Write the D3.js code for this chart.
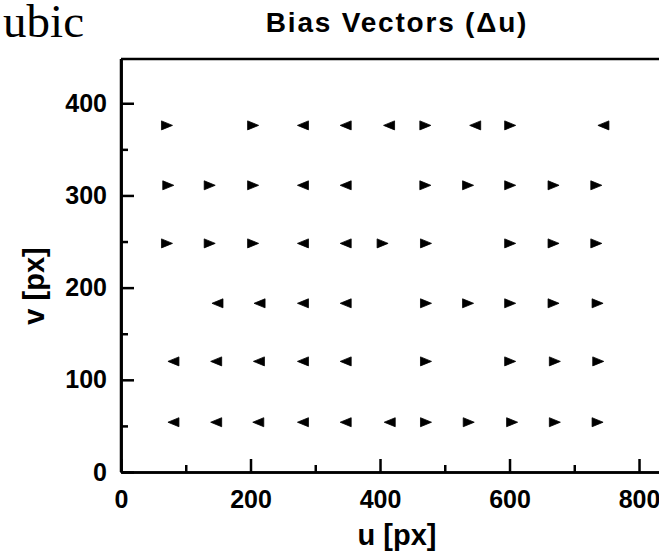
<!DOCTYPE html>
<html>
<head>
<meta charset="utf-8">
<script src="https://cdn.jsdelivr.net/npm/d3@7"></script>
<style>
  body { margin: 0; background: #fff; overflow: hidden; }
  svg { display: block; overflow: hidden; }
  .axis path, .axis line { stroke: #000; stroke-width: 2.5; }
  .axis text { font-family: "Liberation Sans", Arial, sans-serif; font-weight: bold; font-size: 25px; fill: #000; }
  .title, .label { font-family: "Liberation Sans", Arial, sans-serif; font-weight: bold; fill: #000; }
</style>
</head>
<body>
<div id="chart"></div>
<script>
// row heights (v, px) and the u positions / sign of du in each row
var rowV = [376, 311, 248, 183, 120, 54];

var row1U = [71, 204, 281, 347, 414, 470, 547, 601, 745];
var row1Dir = [1, 1, -1, -1, -1, 1, -1, 1, -1];
var row2U = [73, 137, 204, 281, 347, 470, 536, 601, 668, 734];
var row2Dir = [1, 1, 1, -1, -1, 1, 1, 1, 1, 1];
var row3U = [71, 137, 204, 281, 347, 404, 471, 601, 668, 734];
var row3Dir = [1, 1, 1, -1, -1, 1, 1, 1, 1, 1];
var row4U = [149, 214, 281, 347, 471, 536, 601, 668, 736];
var row4Dir = [-1, -1, -1, -1, 1, 1, 1, 1, 1];
var row5U = [81, 147, 213, 281, 347, 471, 601, 670, 737];
var row5Dir = [-1, -1, -1, -1, -1, 1, 1, 1, 1];
var row6U = [81, 147, 212, 281, 347, 415, 471, 537, 604, 670, 736];
var row6Dir = [-1, -1, -1, -1, -1, -1, 1, 1, 1, 1, 1];

var xTicks = [0, 200, 400, 600, 800];
var xMinor = [100, 300, 500, 700];
var yTicks = [0, 100, 200, 300, 400];
var yMinor = [50, 150, 250, 350];

var rowsU = [row1U, row2U, row3U, row4U, row5U, row6U];
var rowsDir = [row1Dir, row2Dir, row3Dir, row4Dir, row5Dir, row6Dir];
var points = [];
rowsU.forEach(function(us, i) {
  us.forEach(function(u, j) {
    points.push({ u: u, v: rowV[i], dir: rowsDir[i][j] });
  });
});

var W = 659, H = 551;
var svg = d3.select("#chart").append("svg")
    .attr("width", W)
    .attr("height", H);

var x = d3.scaleLinear().domain([0, 850]).range([121, 671.4]);
var y = d3.scaleLinear().domain([0, 448]).range([472, 59]);

// top edge of the frame (the right edge lies outside the picture)
svg.append("line")
    .attr("x1", x(0))
    .attr("x2", x(850))
    .attr("y1", y(448))
    .attr("y2", y(448))
    .attr("stroke", "#000")
    .attr("stroke-width", 2.5);

// minor ticks
svg.append("g")
    .attr("class", "axis")
    .attr("transform", "translate(0," + y(0) + ")")
    .call(d3.axisBottom(x).tickValues(xMinor).tickSize(-7).tickSizeOuter(0).tickFormat(""));
svg.append("g")
    .attr("class", "axis")
    .attr("transform", "translate(" + x(0) + ",0)")
    .call(d3.axisLeft(y).tickValues(yMinor).tickSize(-7).tickSizeOuter(0).tickFormat(""));

// major ticks + labels
svg.append("g")
    .attr("class", "axis")
    .attr("transform", "translate(0," + y(0) + ")")
    .call(d3.axisBottom(x).tickValues(xTicks).tickSize(-13).tickSizeOuter(0).tickPadding(18));
svg.append("g")
    .attr("class", "axis")
    .attr("transform", "translate(" + x(0) + ",0)")
    .call(d3.axisLeft(y).tickValues(yTicks).tickSize(-13).tickSizeOuter(0).tickPadding(14));
svg.selectAll(".axis").attr("font-size", null).attr("font-family", null);
// left axis line reaches up to the top edge
svg.append("line")
    .attr("x1", x(0)).attr("x2", x(0))
    .attr("y1", y(0)).attr("y2", y(448))
    .attr("stroke", "#000")
    .attr("stroke-width", 2.5);

// markers: small triangles pointing along du
var tri = "M-5.5,-4.5L5.5,0L-5.5,4.5Z";
svg.append("g").selectAll("path")
    .data(points)
    .enter().append("path")
    .attr("d", tri)
    .attr("fill", "#000")
    .attr("stroke", "#000")
    .attr("stroke-width", 0.8)
    .attr("stroke-linejoin", "round")
    .attr("transform", function(d) {
      return "translate(" + x(d.u) + "," + y(d.v) + ") scale(" + d.dir + ",1)";
    });

svg.append("text")
    .attr("class", "title")
    .attr("x", 397)
    .attr("y", 32)
    .attr("text-anchor", "middle")
    .style("font-size", "28px")
    .style("letter-spacing", "1.8px")
    .text("Bias Vectors (\u0394u)");

svg.append("text")
    .attr("class", "label")
    .attr("x", 397)
    .attr("y", 545)
    .attr("text-anchor", "middle")
    .style("font-size", "29px")
    .text("u [px]");

svg.append("text")
    .attr("class", "label")
    .attr("transform", "translate(43.5,286) rotate(-90)")
    .attr("text-anchor", "middle")
    .style("font-size", "29px")
    .text("v [px]");

svg.append("text")
    .attr("x", 84)
    .attr("y", 37)
    .attr("text-anchor", "end")
    .style("font-family", "'Liberation Serif', 'Times New Roman', serif")
    .style("font-size", "47px")
    .style("fill", "#000")
    .text("ubic");
</script>
</body>
</html>
